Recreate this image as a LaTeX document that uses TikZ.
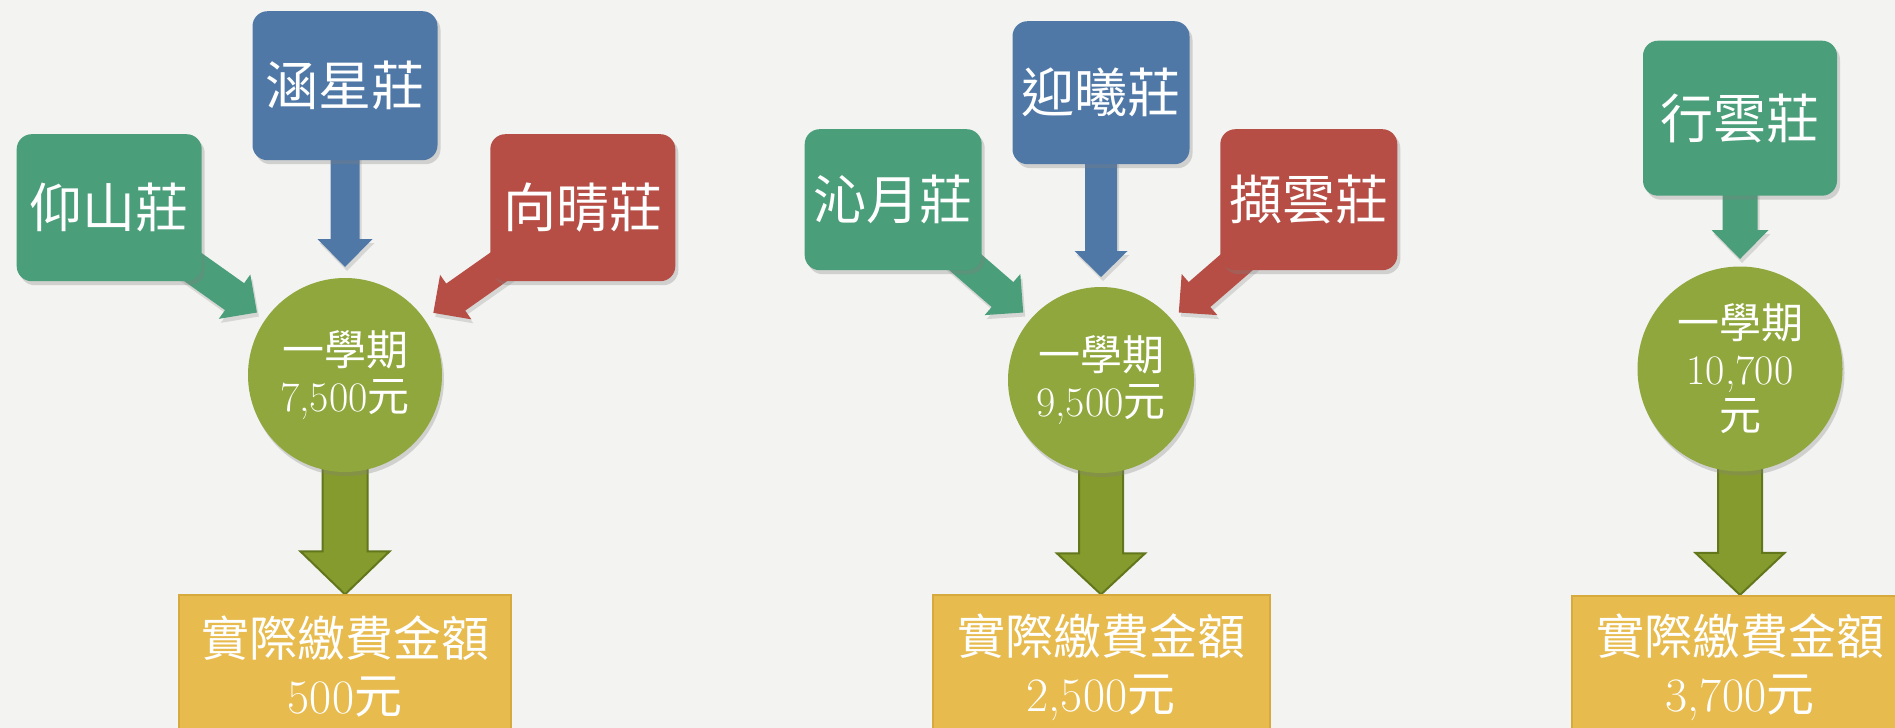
\documentclass[tikz,border=0pt]{standalone}
\usepackage{fontspec}
\newfontfamily\cjk{Noto Sans CJK TC}
\usetikzlibrary{calc}
\usetikzlibrary{positioning,shapes,shadows}
\definecolor{papergray}{RGB}{243,243,242}
\definecolor{hallgreen}{RGB}{74,158,122}
\definecolor{hallblue}{RGB}{79,120,167}
\definecolor{hallred}{RGB}{182,78,70}
\definecolor{feegreen}{RGB}{143,167,60}
\definecolor{oliveshaft}{RGB}{134,155,45}
\definecolor{olivedark}{RGB}{98,118,28}
\definecolor{payyellow}{RGB}{231,187,78}
\definecolor{payedge}{RGB}{214,170,60}
\pgfdeclarelayer{paper}
\pgfdeclarelayer{back}
\pgfsetlayers{paper,back,main}
\tikzstyle{hall} = [rectangle, rounded corners=7.5pt, text=white, text centered, drop shadow={opacity=0.3,shadow xshift=1.5pt,shadow yshift=-2pt}]
\tikzstyle{fee} = [circle, inner sep=0pt, text=white, align=center, fill=feegreen, drop shadow={opacity=0.3,shadow xshift=1pt,shadow yshift=-2pt}]
\tikzstyle{pay} = [rectangle, fill=payyellow, draw=payedge, line width=1pt, text=white, align=center, font=\payfont]
\tikzstyle{arrow} = [draw=none, drop shadow={opacity=0.25,shadow xshift=1pt,shadow yshift=-2pt}]
\tikzstyle{bigarrow} = [fill=oliveshaft, draw=olivedark, line width=1pt]
\newcommand{\hallfont}{\cjk\fontsize{26.5}{30}\selectfont}
\newcommand{\feefont}{\cjk\fontsize{21}{23}\selectfont}
\newcommand{\payfont}{\cjk\fontsize{24}{28.5}\selectfont}
\newcommand{\amount}[1]{{\rmfamily #1}}
\newcommand{\fatarrow}[6]% #1 = style, #2 = tail, #3 = tip, #4 = half shaft, #5 = half head, #6 = head length
{\coordinate (hb) at ($(#3)!#6!(#2)$);
	\path[#1] ($(#2)!#4!90:(#3)$) -- ($(hb)!#4!90:(#3)$) -- ($(hb)!#5!90:(#3)$) -- (#3)
	-- ($(hb)!#5!-90:(#3)$) -- ($(hb)!#4!-90:(#3)$) -- ($(#2)!#4!-90:(#3)$) -- cycle;}

\begin{document}
\begin{tikzpicture}[x=0.5pt,y=-0.5pt]
		\useasboundingbox (0,0) rectangle (1895,728);
		\clip (0,0) rectangle (1895,728);
		\begin{pgfonlayer}{paper}
			\fill[papergray] (0,0) rectangle (1895,728);
		\end{pgfonlayer}
		
		\node (fee-1) [fee,minimum size=97pt,font=\feefont] at (345,375) {一學期\\\amount{7,500}元};
		\node (han-xing) [hall,fill=hallblue,minimum width=92.5pt,minimum height=74.5pt,font=\hallfont,above=58.5pt of fee-1] {涵星莊};
		\node (yang-shan) [hall,fill=hallgreen,minimum width=92.5pt,minimum height=73.5pt,font=\hallfont,left=25pt of han-xing,yshift=-61pt] {仰山莊};
		\node (xiang-qing) [hall,fill=hallred,minimum width=92.5pt,minimum height=73.5pt,font=\hallfont,right=26pt of han-xing,yshift=-61pt] {向晴莊};
		\node (pay-1) [pay,minimum width=166pt,minimum height=71.5pt,below=61pt of fee-1] {實際繳費金額\\\amount{500}元};
		
		\node (fee-2) [fee,minimum size=93pt,font=\feefont] at (1101,380) {一學期\\\amount{9,500}元};
		\node (ying-xi) [hall,fill=hallblue,minimum width=88.5pt,minimum height=71.5pt,font=\hallfont,above=61pt of fee-2] {迎曦莊};
		\node (qin-yue) [hall,fill=hallgreen,minimum width=88.5pt,minimum height=70.5pt,font=\hallfont,left=15pt of ying-xi,yshift=-53.5pt] {沁月莊};
		\node (xie-yun) [hall,fill=hallred,minimum width=88.5pt,minimum height=70.5pt,font=\hallfont,right=15pt of ying-xi,yshift=-53.5pt] {擷雲莊};
		\node (pay-2) [pay,minimum width=168.5pt,minimum height=71.5pt,below=60.5pt of fee-2] {實際繳費金額\\\amount{2,500}元};
		
		\node (fee-3) [fee,minimum size=102.5pt,font=\feefont] at (1740,369) {一學期\\\amount{10,700}\\元};
		\node (xing-yun) [hall,fill=hallgreen,minimum width=97pt,minimum height=77.5pt,font=\hallfont,above=35pt of fee-3] {行雲莊};
		\node (pay-3) [pay,minimum width=168pt,minimum height=71.5pt,below=61.5pt of fee-3] {實際繳費金額\\\amount{3,700}元};
		
		\begin{pgfonlayer}{back}
			\coordinate (tip-1a) at ($(fee-1.center)!54pt!(yang-shan.center)$);
			\coordinate (tip-1b) at ($(fee-1.center)!54pt!(han-xing.center)$);
			\coordinate (tip-1c) at ($(fee-1.center)!54pt!(xiang-qing.center)$);
			\coordinate (tip-2a) at ($(fee-2.center)!51.5pt!(qin-yue.center)$);
			\coordinate (tip-2b) at ($(fee-2.center)!51.5pt!(ying-xi.center)$);
			\coordinate (tip-2c) at ($(fee-2.center)!51.5pt!(xie-yun.center)$);
			\coordinate (tip-3) at ($(fee-3.center)!55pt!(xing-yun.center)$);
			
			\fatarrow{arrow,fill=hallgreen}{yang-shan.center}{tip-1a}{8.25pt}{13.6pt}{13.7pt}
			\fatarrow{arrow,fill=hallblue}{han-xing.center}{tip-1b}{7.25pt}{13.75pt}{14pt}
			\fatarrow{arrow,fill=hallred}{xiang-qing.center}{tip-1c}{8.25pt}{13.6pt}{13.7pt}
			\fatarrow{arrow,fill=hallgreen}{qin-yue.center}{tip-2a}{8.25pt}{13.6pt}{13.7pt}
			\fatarrow{arrow,fill=hallblue}{ying-xi.center}{tip-2b}{8pt}{13.25pt}{13pt}
			\fatarrow{arrow,fill=hallred}{xie-yun.center}{tip-2c}{8.25pt}{13.6pt}{13.7pt}
			\fatarrow{arrow,fill=hallgreen}{xing-yun.center}{tip-3}{8.75pt}{14.25pt}{14.5pt}
			
			\fatarrow{bigarrow}{fee-1.center}{pay-1.north}{11.25pt}{22.25pt}{21.5pt}
			\fatarrow{bigarrow}{fee-2.center}{pay-2.north}{11pt}{22pt}{20.5pt}
			\fatarrow{bigarrow}{fee-3.center}{pay-3.north}{11pt}{22.25pt}{21pt}
		\end{pgfonlayer}
	
	\end{tikzpicture}
\end{document}
